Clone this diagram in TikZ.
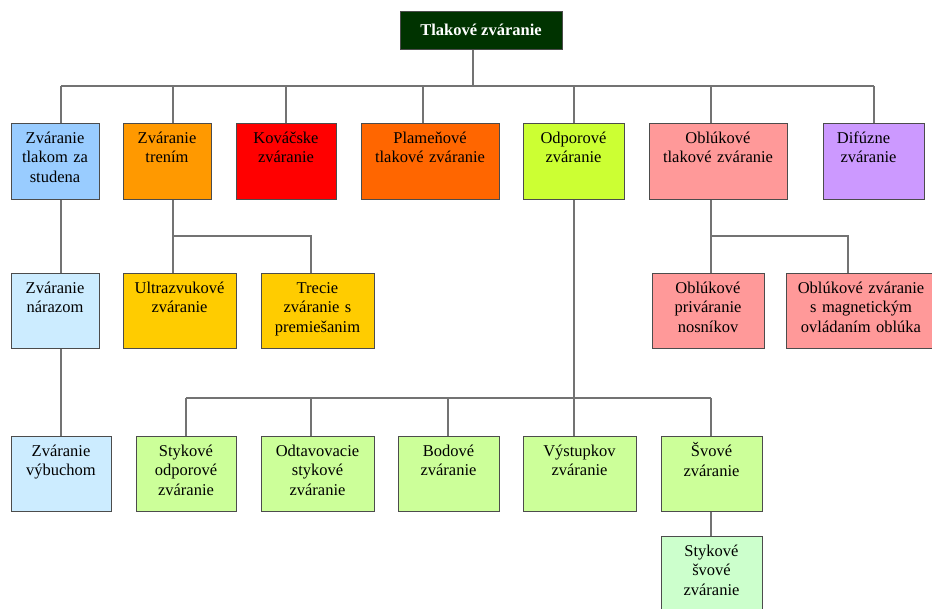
\documentclass[tikz,border=0pt]{standalone}
\usepackage{fontspec}
\setmainfont{Liberation Serif}
\usetikzlibrary{calc,shadows}
\definecolor{rootfill}{HTML}{003300}
\definecolor{cBlue}{HTML}{99CCFF}
\definecolor{cLBlue}{HTML}{CCECFF}
\definecolor{cOrange}{HTML}{FF9900}
\definecolor{cRed}{HTML}{FF0000}
\definecolor{cFlame}{HTML}{FF6600}
\definecolor{cLime}{HTML}{CCFF33}
\definecolor{cPink}{HTML}{FF9999}
\definecolor{cViolet}{HTML}{CC99FF}
\definecolor{cGold}{HTML}{FFCC00}
\definecolor{cGreen}{HTML}{CCFF99}
\definecolor{cMint}{HTML}{CCFFCC}
\tikzset{
  wb/.style={draw=black!70, line width=1pt, rectangle, inner sep=0pt,
    drop shadow={shadow xshift=1pt, shadow yshift=-1pt, opacity=0.3, fill=black!60}},
  wt/.style={inner sep=0pt, anchor=north, align=center,
    font=\fontsize{16.5}{19.5}\selectfont, execute at begin node=\strut},
  conn/.style={draw=black!55, line width=1.3pt}
}
% name, x1, y1, x2, y2, fill, text xshift, text
\newcommand\wbox[8]{%
  \node[wb, fill=#6, minimum width={(#4-#2)*1pt}, minimum height={(#5-#3)*1pt}]
    (#1) at ({(#2+#4)/2},{(#3+#5)/2}) {};
  \node[wt, text width={(#4-#2-6)*1pt}] (#1t) at ($(#1.north)+(#7,7)$) {#8};}
\begin{document}
\begin{tikzpicture}[x=1pt,y=-1pt]
\useasboundingbox (0,0) rectangle (932,608);
% root
\node[wb, fill=rootfill, minimum width=162pt, minimum height=38pt,
  text=white, font=\fontsize{16.5}{19.5}\selectfont\bfseries] (root) at (481,30) {Tlakové zváranie};
% row 1
\wbox{a1}{11}{123}{99}{199}{cBlue}{0}{Zváranie\\tlakom za\\studena}
\wbox{a2}{123}{123}{211}{199}{cOrange}{0}{Zváranie\\trením}
\wbox{a3}{236}{123}{336}{199}{cRed}{0}{Kováčske\\zváranie}
\wbox{a4}{361}{123}{499}{199}{cFlame}{0}{Plameňové\\tlakové zváranie}
\wbox{a5}{523}{123}{624}{199}{cLime}{0}{Odporové\\zváranie}
\wbox{a6}{649}{123}{787}{199}{cPink}{0}{Oblúkové\\tlakové zváranie}
\wbox{a7}{823}{123}{924}{199}{cViolet}{-10}{Difúzne\\\hspace*{10pt}zváranie}
% row 2
\wbox{c1}{11}{273}{99}{348}{cLBlue}{0}{Zváranie\\nárazom}
\wbox{u}{123}{273}{236}{348}{cGold}{0}{Ultrazvukové\\zváranie}
\wbox{tr}{261}{273}{374}{348}{cGold}{0}{Trecie\\zváranie s\\premiešanim}
\wbox{op}{652}{273}{764}{348}{cPink}{0}{Oblúkové\\priváranie\\nosníkov}
\wbox{mg}{786}{273}{936}{348}{cPink}{0}{Oblúkové zváranie\\s magnetickým\\ovládaním oblúka}
% row 3
\wbox{d1}{11}{436}{111}{511}{cLBlue}{0}{Zváranie\\výbuchom}
\wbox{s1}{136}{436}{236}{511}{cGreen}{0}{Stykové\\odporové\\zváranie}
\wbox{s2}{261}{436}{374}{511}{cGreen}{0}{Odtavovacie\\stykové\\zváranie}
\wbox{s3}{398}{436}{499}{511}{cGreen}{0}{Bodové\\zváranie}
\wbox{s4}{523}{436}{636}{511}{cGreen}{0}{Výstupkov\\zváranie}
\wbox{s5}{661}{436}{762}{511}{cGreen}{0}{Švové\\zváranie}
\wbox{s6}{661}{536}{762}{611}{cMint}{0}{Stykové\\švové\\zváranie}
% bar coordinates
\coordinate (bl) at (61,86);
\coordinate (br) at (874,86);
\coordinate (j2) at (173,236);
\coordinate (j6) at (711,236);
\coordinate (j5l) at (186,398);
\coordinate (j5r) at (711,398);
% connectors: root level
\draw[conn] ([xshift=-8pt]root.south) -- ([xshift=-8pt]root.south |- bl);
\draw[conn] (bl) -- (br);
\draw[conn] ([xshift=6pt]a1.north) -- ([xshift=6pt]a1.north |- bl);
\draw[conn] ([xshift=6pt]a2.north) -- ([xshift=6pt]a2.north |- bl);
\draw[conn] (a3.north) -- (a3.north |- bl);
\draw[conn] ([xshift=-7pt]a4.north) -- ([xshift=-7pt]a4.north |- bl);
\draw[conn] ([xshift=0.5pt]a5.north) -- ([xshift=0.5pt]a5.north |- bl);
\draw[conn] ([xshift=-7pt]a6.north) -- ([xshift=-7pt]a6.north |- bl);
\draw[conn] ([xshift=0.5pt]a7.north) -- ([xshift=0.5pt]a7.north |- bl);
% cold pressure branch
\draw[conn] ([xshift=6pt]a1.south) -- ([xshift=6pt]c1.north);
\draw[conn] ([xshift=6pt]c1.south) -- (d1.north);
% friction branch
\draw[conn] ([xshift=6pt]a2.south) -- ([xshift=-6.5pt]u.north);
\draw[conn] (j2) -| ([xshift=-6.5pt]tr.north);
% arc branch
\draw[conn] ([xshift=-7pt]a6.south) -- ([xshift=3pt]op.north);
\draw[conn] (j6) -| ([xshift=-13pt]mg.north);
% resistance branch
\draw[conn] ([xshift=0.5pt]a5.south) -- ([xshift=0.5pt]a5.south |- j5l);
\draw[conn] (j5l) -- (j5r);
\draw[conn] (s1.north) -- (s1.north |- j5l);
\draw[conn] ([xshift=-6.5pt]s2.north) -- ([xshift=-6.5pt]s2.north |- j5l);
\draw[conn] ([xshift=-0.5pt]s3.north) -- ([xshift=-0.5pt]s3.north |- j5l);
\draw[conn] ([xshift=-5.5pt]s4.north) -- ([xshift=-5.5pt]s4.north |- j5l);
\draw[conn] ([xshift=-0.5pt]s5.north) -- ([xshift=-0.5pt]s5.north |- j5l);
\draw[conn] ([xshift=-0.5pt]s5.south) -- ([xshift=-0.5pt]s6.north);
\end{tikzpicture}
\end{document}
